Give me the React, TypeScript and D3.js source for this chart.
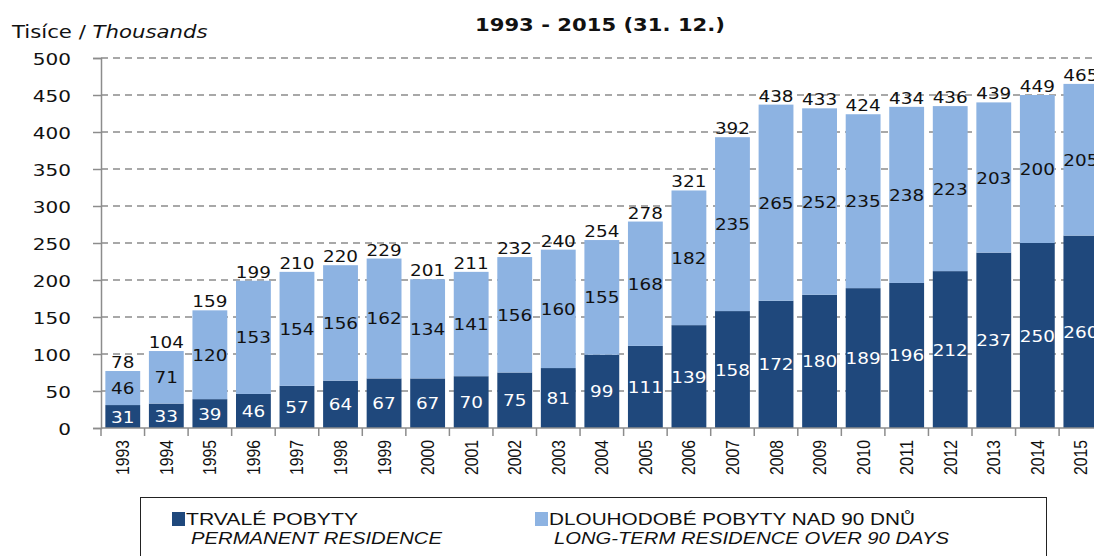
import React, { useEffect, useRef } from 'react';
import * as d3 from 'd3';

const years = ['1993','1994','1995','1996','1997','1998','1999','2000','2001','2002','2003','2004','2005','2006','2007','2008','2009','2010','2011','2012','2013','2014','2015'];
const permanent = [31,33,39,46,57,64,67,67,70,75,81,99,111,139,158,172,180,189,196,212,237,250,260];
const longTerm = [46,71,120,153,154,156,162,134,141,156,160,155,168,182,235,265,252,235,238,223,203,200,205];
const totals = [78,104,159,199,210,220,229,201,211,232,240,254,278,321,392,438,433,424,434,436,439,449,465];
const yTicks = [0,50,100,150,200,250,300,350,400,450,500];

const DARK = '#1f487c';
const LIGHT = '#8db3e2';
const FONT = 'DejaVu Sans, Verdana, sans-serif';
const NARROW = 'Liberation Sans Narrow, Liberation Sans, sans-serif';

export default function App() {
  const ref = useRef<SVGSVGElement>(null);

  useEffect(() => {
    const svg = d3.select(ref.current);
    svg.selectAll('*').remove();

    const width = 1094;
    const left = 101, bottom = 428, top = 58;

    const x = d3.scaleBand().domain(years).range([left, left + 23 * 43.55]).paddingInner(0.2).paddingOuter(0.1);
    const y = d3.scaleLinear().domain([0, 500]).range([bottom, top]);

    const rows = years.map((yr, i) => ({ year: yr, perm: permanent[i], long: longTerm[i], total: totals[i] }));

    // title
    svg.append('text').attr('x', 475).attr('y', 31)
      .attr('font-family', FONT).attr('font-weight', 'bold').attr('font-size', 17).attr('fill', '#111')
      .attr('textLength', 250).attr('lengthAdjust', 'spacingAndGlyphs')
      .text('1993 - 2015 (31. 12.)');

    const unit = svg.append('text').attr('transform', 'translate(12,38) scale(1.25,1)').attr('font-family', FONT)
      .attr('font-size', 17).attr('fill', '#111');
    unit.append('tspan').text('Tisíce / ');
    unit.append('tspan').attr('font-style', 'italic').text('Thousands');

    // grid
    svg.append('g').selectAll('line').data(yTicks.filter(d => d > 0)).enter().append('line')
      .attr('x1', left).attr('x2', width).attr('y1', d => y(d)).attr('y2', d => y(d))
      .attr('stroke', '#8c8c8c').attr('stroke-width', 1.3).attr('stroke-dasharray', '7,5');

    // bars
    const stack = d3.stack<any>().keys(['perm', 'long'])(rows);
    const colors = [DARK, LIGHT];
    stack.forEach((layer, li) => {
      svg.append('g').selectAll('rect').data(layer).enter().append('rect')
        .attr('x', d => x(d.data.year)!)
        .attr('width', x.bandwidth())
        .attr('y', d => y(d[1]))
        .attr('height', d => y(d[0]) - y(d[1]))
        .attr('fill', colors[li]);
    });

    // y axis
    const yAxis = d3.axisLeft(y).tickValues(yTicks).tickSize(8).tickPadding(22);
    const ya = svg.append('g').attr('transform', `translate(${left},0)`).call(yAxis);
    ya.selectAll('line, path').attr('stroke', '#8c8c8c').attr('stroke-width', 1.5);
    ya.selectAll('text')
      .attr('x', 0)
      .attr('transform', 'translate(-30,1) scale(1.25,1)')
      .attr('font-family', FONT).attr('font-size', 16).attr('fill', '#111');

    // x axis
    const xg = svg.append('g').attr('transform', `translate(0,${bottom})`);
    xg.append('line').attr('x1', left).attr('x2', width).attr('stroke', '#8c8c8c').attr('stroke-width', 1.5);
    const step = x.step();
    xg.selectAll('line.t').data(years).enter().append('line').attr('class', 't')
      .attr('x1', d => x(d)! - step * 0.1).attr('x2', d => x(d)! - step * 0.1)
      .attr('y1', 0).attr('y2', 8).attr('stroke', '#8c8c8c').attr('stroke-width', 1.5);
    xg.selectAll('text').data(years).enter().append('text')
      .attr('transform', d => `translate(${x(d)! + x.bandwidth() / 2 + 6.5},12) rotate(-90)`)
      .attr('text-anchor', 'end').attr('font-family', 'Liberation Sans, sans-serif')
      .attr('font-size', 18).attr('fill', '#111').attr('textLength', 35).attr('lengthAdjust', 'spacingAndGlyphs')
      .text(d => d);

    // labels
    const cx = (d: any) => x(d.year)! + x.bandwidth() / 2;
    const lbl = svg.append('g').attr('font-family', FONT).attr('font-size', 16).attr('text-anchor', 'middle');
    lbl.selectAll('text.p').data(rows).enter().append('text')
      .attr('transform', d => `translate(${cx(d)},${y(d.perm / 2) + 6}) scale(1.15,1)`)
      .attr('fill', '#fff').text(d => d.perm);
    lbl.selectAll('text.l').data(rows).enter().append('text')
      .attr('transform', d => `translate(${cx(d)},${y(d.perm + d.long / 2) + 6}) scale(1.15,1)`)
      .attr('fill', '#111').text(d => d.long);
    lbl.selectAll('text.t').data(rows).enter().append('text')
      .attr('transform', d => `translate(${cx(d)},${y(d.perm + d.long) - 3}) scale(1.15,1)`)
      .attr('fill', '#111').text(d => d.total);

    // legend
    const lg = svg.append('g');
    lg.append('rect').attr('x', 140.5).attr('y', 497.5).attr('width', 906).attr('height', 80)
      .attr('fill', '#fff').attr('stroke', '#222').attr('stroke-width', 1);
    const items = [
      { c: DARK, a: 'TRVALÉ POBYTY', b: 'PERMANENT RESIDENCE', x: 172, wa: 172, wb: 251 },
      { c: LIGHT, a: 'DLOUHODOBÉ POBYTY NAD 90 DNŮ', b: 'LONG-TERM RESIDENCE OVER 90 DAYS', x: 535, wa: 366, wb: 395 },
    ];
    items.forEach(it => {
      lg.append('rect').attr('x', it.x).attr('y', 512).attr('width', 13).attr('height', 14).attr('fill', it.c);
      lg.append('text').attr('x', it.x + 14).attr('y', 525).attr('font-family', NARROW)
        .attr('font-size', 17).attr('fill', '#111')
        .attr('textLength', it.wa).attr('lengthAdjust', 'spacingAndGlyphs').text(it.a);
      lg.append('text').attr('x', it.x + 19).attr('y', 544).attr('font-family', NARROW)
        .attr('font-size', 17).attr('font-style', 'italic').attr('fill', '#111')
        .attr('textLength', it.wb).attr('lengthAdjust', 'spacingAndGlyphs').text(it.b);
    });
  }, []);

  return (
    <svg ref={ref} width={1094} height={556} style={{ position: 'absolute', left: 0, top: 0, background: '#fff' }} />
  );
}
